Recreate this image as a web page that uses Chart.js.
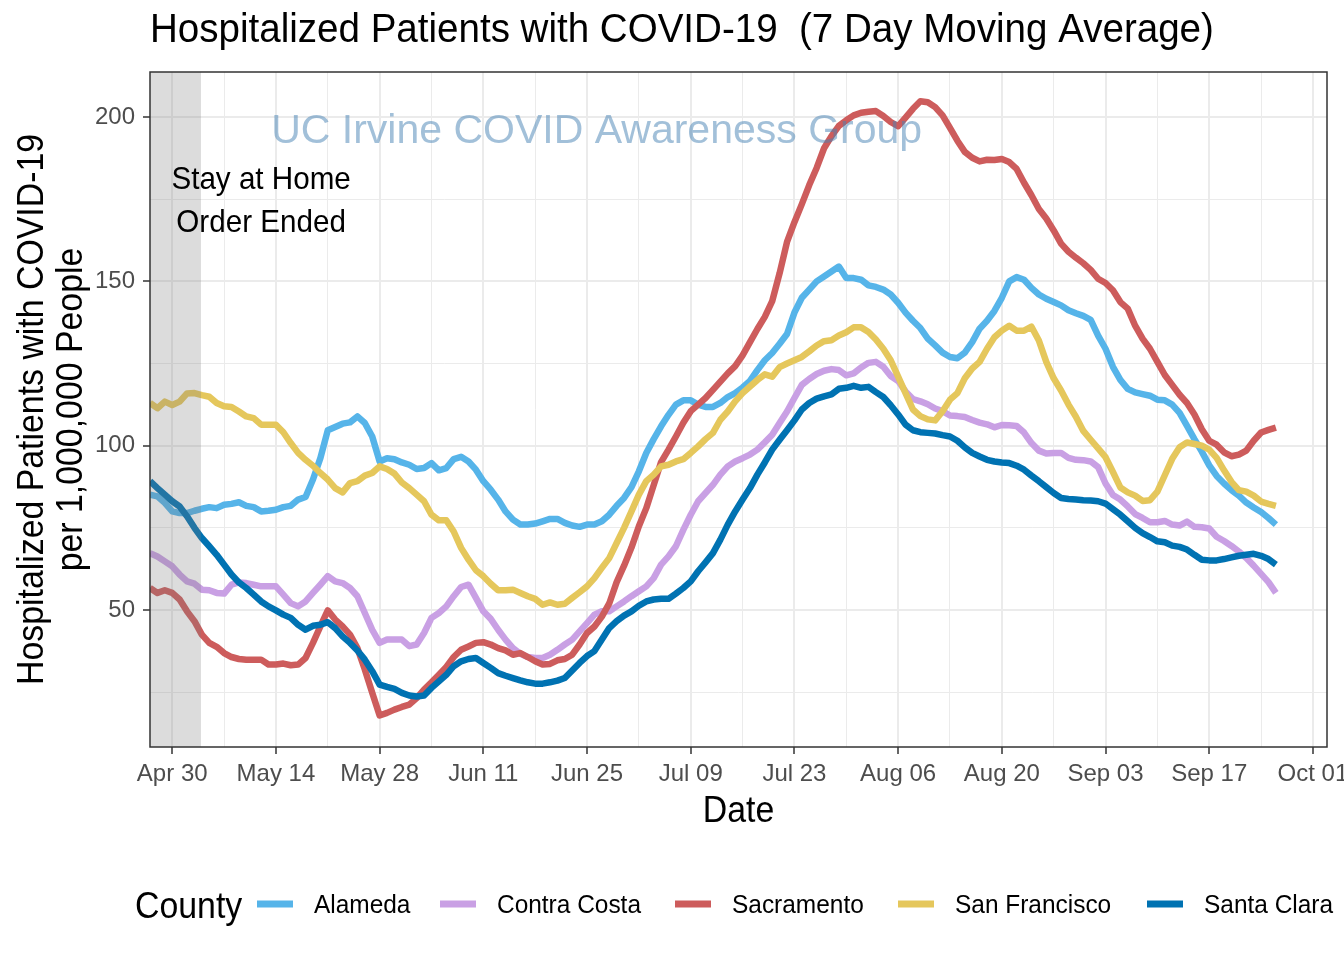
<!DOCTYPE html>
<html><head><meta charset="utf-8">
<script src="https://cdn.jsdelivr.net/npm/chart.js@4.4.1/dist/chart.umd.min.js"></script>
<style>html,body{margin:0;padding:0;background:#fff;}canvas{display:block;}</style>
</head><body>
<canvas id="c" width="1344" height="960"></canvas>
<script>
// ---- data (one value per day, first value = Apr 27, x = days since Apr 27) ----
const counties = ['Alameda', 'Contra Costa', 'Sacramento', 'San Francisco', 'Santa Clara'];

const alameda = [
  85.1,84.6,82.6,80,79.5,79.5,80.2,80.8,81.3,81,82,82.3,82.8,
  81.7,81.3,80,80.2,80.5,81.3,81.7,83.6,84.4,89.7,
  96.2,104.7,105.7,106.7,107.1,108.9,106.9,102.8,95.2,96.2,
  95.9,94.9,94.2,92.9,93.2,94.7,92.5,93.2,95.9,96.6,
  95.2,92.7,89.2,86.6,83.6,80,77.5,76,76,76.3,
  77,77.7,77.7,76.5,75.7,75.3,76,76,77,79,
  81.7,84.1,87.4,92.2,97.8,102,105.9,109.4,112.5,113.8,
  113.8,112.5,111.8,111.8,113,114.8,116,117.7,119.7,123,
  126,128.2,131,134,140.5,145,147.5,150,151.5,153,
  154.5,151,151,150.5,148.8,148.3,147.5,146,143.5,140.5,
  138,135.8,132.6,130.5,128.3,127,126.6,128.3,131.5,135.6,
  138,141,145,150,151.3,150.5,148,146,144.7,143.7,
  142.7,141.2,140.3,139.5,138.3,133.5,129.5,124,120,117.3,
  116.2,115.7,115.2,114,113.8,112.5,110,106,102,98.2,
  94,90.8,88.5,86.5,84.8,82.7,81.2,79.8,78,76
];
const contraCosta = [
  67.3,66.3,64.8,63.3,60.8,58.7,58,56.2,56,55.2,55,57.7,58.4,
  58.2,57.7,57.2,57.2,57.2,54.7,52.1,51.1,52.6,55.2,
  57.7,60.3,58.7,58.2,56.7,54.2,49.1,44,40,41,
  41,41,39,39.5,43,47.6,49.1,51.1,54.2,57,
  57.7,53.7,49.6,47.3,44,41,38.4,36.7,35.7,35.4,
  35.4,36.4,37.9,39.5,41,43.5,46,48.6,49.6,49.6,
  51.1,52.6,54.2,55.7,57.2,59.7,63.8,66.3,69.4,74.4,
  79,83.1,85.6,88.1,91.2,93.7,95.2,96.2,97.3,98.8,
  101,103.3,106.9,110.4,114.5,118.5,120.3,121.8,122.8,123.3,
  123,121.4,122,123.8,125.2,125.5,124,121.2,119.7,116.5,
  114.2,113.5,112.6,111.3,110.5,109.2,109,108.7,107.8,107,
  106.5,105.6,106.3,106.2,106,104,100.8,98.5,97.6,97.8,
  97.8,96.3,95.7,95.6,95.2,93.5,88.5,85,83.6,81.5,
  79.2,78,76.7,76.7,77.1,76,75.7,76.9,75.3,75.2,
  74.8,72.3,71,69.5,67.8,65.8,63.5,61,58.5,55.2
];
const sacramento = [
  56.7,55.2,56,55.2,53.2,49.6,46.6,42.5,40,38.8,36.9,35.7,35.1,
  34.9,34.9,34.9,33.4,33.4,33.7,33.2,33.4,35.4,40,
  45,49.9,47.1,45,42.5,38.4,31.9,24.8,17.9,18.7,
  19.7,20.5,21.2,23.2,25.8,28,30.3,32.7,35.7,37.9,
  38.9,40,40.2,39.5,38.4,37.7,36.4,36.9,35.7,34.4,
  33.4,33.6,34.7,35.1,36.4,39.5,43,45,48,52,
  58.5,63.5,69,75.5,81,88,95,98.8,102.8,107,
  110.5,112.5,114.5,117,119.5,122,124.2,127.5,131.5,135.5,
  139.2,144,152.5,162,168,173.5,179.3,184.5,190.5,194.2,
  197.3,199,200.5,201.3,201.6,201.8,200.3,198.5,197.2,199.8,
  202.5,204.8,204.5,203,200.5,196.7,192.8,189.4,187.6,186.5,
  187,186.9,187.2,186.3,184.2,180,176.2,172,169.1,165.5,
  161.5,159,157.2,155.5,153.5,150.8,149.5,147.3,143.7,141.7,
  136.5,132.6,129.5,125.5,121.5,118.5,115.5,113,109.5,105,
  101.5,100.3,98,96.8,97.3,98.5,101.5,104,104.8,105.5
];
const sanFrancisco = [
  113,111.4,113.4,112.4,113.4,115.9,116,115.4,114.9,113,112,111.8,110.4,
  108.9,108.4,106.4,106.4,106.4,104.1,100.8,97.8,95.7,93.9,
  91.7,89.7,87.1,85.8,88.6,89.2,90.9,91.7,93.7,92.9,
  91.5,88.8,87.1,85.1,83.1,79,77.3,77.3,73.9,68.9,
  65.3,62.1,60.3,58,56,56,56.2,55.2,54.2,53.4,
  51.6,52.3,51.6,51.9,53.7,55.4,57.2,59.7,62.8,65.8,
  70.4,75,80,85.1,89.2,91.2,93.7,94.2,95.2,95.9,
  97.8,99.8,102,103.9,107.9,110.4,113.5,116,118,120,
  121.7,121,123.9,125,126,127,128.7,130.5,131.8,132.1,
  133.5,134.5,136,136,134.6,132.3,129.5,126,121,116,
  111,109,108,107.7,110.5,114,116,120.5,123.5,125.5,
  129.5,133,135,136.5,135,135,136.2,132,125.5,120.5,
  116.8,112.5,108.8,104.5,101.8,99.2,96.5,92,87.3,85.8,
  84.8,83.2,83.4,86,91,96,99.5,101,100.5,100,
  98.8,96.3,92.5,89,86.5,86,84.8,83,82.3,81.7
];
const santaClara = [
  89.2,87.1,85.1,83.1,81.5,78.5,75,71.9,69.4,66.8,63.8,60.8,58.4,
  56.7,54.7,52.6,51.1,49.9,48.6,47.6,45.5,44,45.2,
  45.5,46.3,44.5,42,40,37.7,34.9,31.4,27.3,26.6,
  26,24.8,24,23.7,24,26.3,28.3,30.3,32.9,34.4,
  35.1,35.4,33.9,32.4,30.8,30,29.3,28.6,28,27.6,
  27.6,28,28.5,29.3,31.6,33.9,36,37.5,41,44.5,
  46.6,48.3,49.6,51.3,52.6,53.2,53.4,53.4,55,56.7,
  58.7,61.8,64.5,67.3,71.4,76,80,83.6,87.1,91.2,
  94.9,98.8,101.8,104.7,107.7,111,113,114.3,115,115.6,
  117.3,117.6,118.2,117.6,117.9,116.3,114.8,112.3,109.5,106.4,
  104.7,104.1,103.9,103.7,103.2,102.8,101.5,99.5,97.8,96.7,
  95.7,95.2,94.9,94.7,93.9,92.7,90.9,89.2,87.4,85.6,
  84.1,83.8,83.6,83.4,83.3,83.1,82.4,80.7,79,77,
  75,73.4,72.2,70.9,70.6,69.6,69.2,68.4,66.8,65.3,
  65.1,65.1,65.5,66,66.5,66.8,67.1,66.5,65.5,63.8
];

// x tick labels (days since Apr 27)
const xTickDays   = [3, 17, 31, 45, 59, 73, 87, 101, 115, 129, 143, 157];
const xTickLabels = ['Apr 30','May 14','May 28','Jun 11','Jun 25','Jul 09','Jul 23','Aug 06','Aug 20','Sep 03','Sep 17','Oct 01'];
const xMinorDays  = [10, 24, 38, 52, 66, 80, 94, 108, 122, 136, 150];
const yTicks      = [50, 100, 150, 200];
const yMinor      = [25, 75, 125, 175];
const stayHomeDays = [0, 6.88];   // shaded "stay at home" period

// ---- styles ----
const colors = ['#56B4E9', '#C9A0E4', '#CD5C5C', '#E5C75C', '#0072B2'];
const FONT = '"Liberation Sans", Arial, Helvetica, sans-serif';
const series = [alameda, contraCosta, sacramento, sanFrancisco, santaClara];

function drawText(ctx, text, x, y, o) {
  ctx.save();
  ctx.translate(x, y);
  if (o.rotate) ctx.rotate(o.rotate);
  ctx.scale(o.condense || 0.94, 1);
  ctx.font = (o.weight || '') + ' ' + o.size + 'px ' + FONT;
  ctx.fillStyle = o.color || '#000';
  ctx.textAlign = o.align || 'left';
  ctx.textBaseline = 'alphabetic';
  ctx.fillText(text, 0, 0);
  ctx.restore();
}

const decor = {
  id: 'decor',
  beforeDraw(chart) {
    const c = chart.ctx;
    c.save(); c.fillStyle = '#fff'; c.fillRect(0, 0, chart.width, chart.height); c.restore();
  },
  afterDatasetsDraw(chart) {
    const c = chart.ctx, a = chart.chartArea, xs = chart.scales.x, ys = chart.scales.y;
    c.save();
    c.beginPath(); c.rect(a.left, a.top, a.right - a.left, a.bottom - a.top); c.clip();
    const x0 = xs.getPixelForValue(stayHomeDays[0]), x1 = xs.getPixelForValue(stayHomeDays[1]);
    c.fillStyle = 'rgba(127,127,127,0.27)';
    c.fillRect(x0, a.top, x1 - x0, a.bottom - a.top);
    // watermark
    const wx = xs.getPixelForValue(60.3), wy = ys.getPixelForValue(196.6);
    drawText(c, 'UC Irvine COVID Awareness Group', wx, wy + 15, {size: 41, color: 'rgba(70,130,180,0.5)', align: 'center', condense: 1});
    // annotation
    const ax = xs.getPixelForValue(15), ay = ys.getPixelForValue(175);
    drawText(c, 'Stay at Home', ax, ay - 10, {size: 31.5, align: 'center'});
    drawText(c, 'Order Ended', ax, ay + 33, {size: 31.5, align: 'center'});
    c.restore();
    // panel border
    c.save();
    c.strokeStyle = '#333333'; c.lineWidth = 1.5;
    c.strokeRect(a.left, a.top, a.right - a.left, a.bottom - a.top);
    c.restore();
  },
  afterDraw(chart) {
    const c = chart.ctx, a = chart.chartArea;
    drawText(c, 'Hospitalized Patients with COVID-19  (7 Day Moving Average)', 150, 42, {size: 41});
    drawText(c, 'Date', (a.left + a.right) / 2, 822, {size: 36, align: 'center'});
    const cy = (a.top + a.bottom) / 2;
    drawText(c, 'Hospitalized Patients with COVID-19', 43, cy, {size: 36, align: 'center', rotate: -Math.PI / 2});
    drawText(c, 'per 1,000,000 People', 82, cy, {size: 36, align: 'center', rotate: -Math.PI / 2});
    // legend
    drawText(c, 'County', 135, 918, {size: 36});
    const keyX = [257, 440, 675, 898, 1147];
    counties.forEach((name, i) => {
      c.save();
      c.fillStyle = colors[i];
      c.fillRect(keyX[i], 900.5, 36, 7);
      c.restore();
      drawText(c, name, keyX[i] + 57, 913, {size: 26});
    });
  }
};

const isMajorX = v => xTickDays.includes(v);
const isMajorY = v => yTicks.includes(v);

new Chart(document.getElementById('c'), {
  type: 'line',
  data: {
    datasets: counties.map((name, i) => ({
      label: name,
      data: series[i].map((v, d) => ({x: d, y: v})),
      borderColor: colors[i],
      backgroundColor: colors[i],
      borderWidth: 6.5,
      pointRadius: 0,
      tension: 0,
      fill: false,
      borderJoinStyle: 'round',
      borderCapStyle: 'butt',
      order: counties.length - i
    }))
  },
  options: {
    responsive: false,
    animation: false,
    devicePixelRatio: 1,
    events: [],
    layout: {padding: {top: 72, right: 17, left: 0, bottom: 0}},
    plugins: {legend: {display: false}, title: {display: false}, tooltip: {enabled: false}},
    scales: {
      x: {
        type: 'linear', min: 0, max: 158.9,
        afterFit: s => { s.height = 213; s.paddingLeft = 0; s.paddingRight = 0; },
        afterBuildTicks: s => { s.ticks = xTickDays.concat(xMinorDays).sort((p, q) => p - q).map(v => ({value: v})); },
        ticks: {
          autoSkip: false, maxRotation: 0, minRotation: 0, padding: 6,
          color: '#4D4D4D', font: {family: FONT, size: 24},
          callback: v => { const k = xTickDays.indexOf(v); return k >= 0 ? xTickLabels[k] : ''; }
        },
        grid: {
          color: '#EBEBEB',
          lineWidth: c => (c.tick && isMajorX(c.tick.value)) ? 2 : 1,
          tickLength: 7,
          tickWidth: 1.5,
          tickColor: c => (c.tick && isMajorX(c.tick.value)) ? '#333333' : 'rgba(0,0,0,0)'
        },
        border: {display: false}
      },
      y: {
        type: 'linear', min: 8.32, max: 213.7,
        afterFit: s => { s.width = 150; s.paddingTop = 0; s.paddingBottom = 0; },
        afterBuildTicks: s => { s.ticks = yMinor.concat(yTicks).sort((p, q) => p - q).map(v => ({value: v})); },
        ticks: {
          autoSkip: false, padding: 8,
          color: '#4D4D4D', font: {family: FONT, size: 24},
          callback: v => isMajorY(v) ? String(v) : ''
        },
        grid: {
          color: '#EBEBEB',
          lineWidth: c => (c.tick && isMajorY(c.tick.value)) ? 2 : 1,
          tickLength: 7,
          tickWidth: 1.5,
          tickColor: c => (c.tick && isMajorY(c.tick.value)) ? '#333333' : 'rgba(0,0,0,0)'
        },
        border: {display: false}
      }
    }
  },
  plugins: [decor]
});
</script>
</body></html>
